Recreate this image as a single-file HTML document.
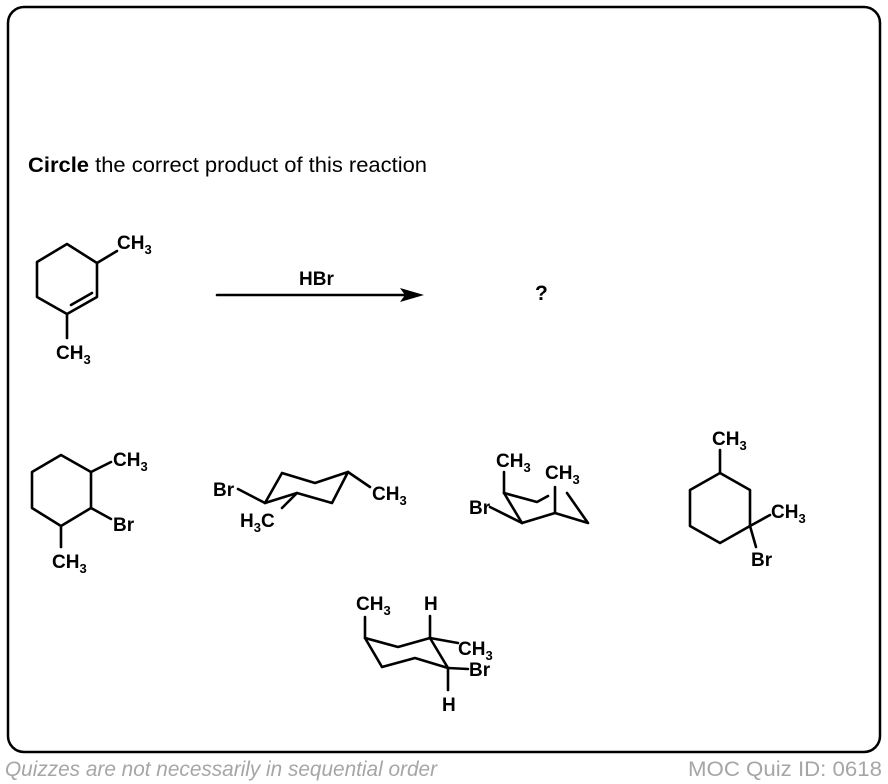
<!DOCTYPE html>
<html><head><meta charset="utf-8"><style>
html,body{margin:0;padding:0;background:#fff;}
svg{display:block;}
text{font-family:"Liberation Sans",Arial,sans-serif;fill:#000;}
.b{font-weight:bold;font-size:19px;}
.s{font-size:13px;font-weight:bold;}
</style></head><body>
<svg width="888" height="784" viewBox="0 0 888 784" xmlns="http://www.w3.org/2000/svg">
<rect x="8" y="7" width="872" height="745" rx="16" ry="16" fill="none" stroke="#000" stroke-width="2.5"/>
<text x="28" y="172" style="font-size:21px" textLength="399" lengthAdjust="spacingAndGlyphs"><tspan font-weight="bold">Circle</tspan> the correct product of this reaction</text>
<g stroke="#000" stroke-width="2.6" fill="none" stroke-linejoin="round" stroke-linecap="round">
<!-- mol 1 -->
<polygon points="67,244 97,263 97,297 67,314 37,297 37,262"/>
<line x1="71" y1="305" x2="92" y2="293"/>
<line x1="97" y1="263" x2="117" y2="251"/>
<line x1="67" y1="314" x2="67" y2="338"/>
<!-- arrow -->
<line x1="217" y1="295" x2="405" y2="295"/>
<!-- mol 2 -->
<polygon points="61,455 91,472 91,508 61,526 32,508 32,472"/>
<line x1="91" y1="472" x2="111" y2="462"/>
<line x1="91" y1="508" x2="111" y2="519"/>
<line x1="61" y1="526" x2="61" y2="547"/>
<!-- chair 1 -->
<polyline points="265,503 282,473 315,483 348,472 332,503 297,493 265,503"/>
<line x1="238" y1="489" x2="265" y2="503"/>
<line x1="348" y1="472" x2="370" y2="487"/>
<line x1="297" y1="493" x2="282" y2="508"/>
<!-- chair 2 -->
<line x1="504" y1="472" x2="504" y2="493"/>
<polyline points="504,493 537,502 548,496"/>
<polyline points="567,493 588,523 555,513 522,523 504,493"/>
<line x1="555" y1="513" x2="555" y2="487"/>
<line x1="490" y1="507" x2="522" y2="523"/>
<!-- chair 3 -->
<line x1="365" y1="638" x2="365" y2="617"/>
<polyline points="365,638 398,647 430,638 448,668 415,658 382,667 365,638"/>
<line x1="430" y1="638" x2="430" y2="616"/>
<line x1="430" y1="638" x2="458" y2="643"/>
<line x1="448" y1="668" x2="468" y2="669"/>
<line x1="448" y1="668" x2="448" y2="690"/>
<!-- mol 5 -->
<line x1="720" y1="450" x2="720" y2="473"/>
<polygon points="720,473 750,490 750,526 720,543 690,526 690,490"/>
<line x1="750" y1="526" x2="770" y2="515"/>
<line x1="750" y1="526" x2="756" y2="547"/>
</g>
<polygon points="424,295 400,288 405,295 400,302" fill="#000"/>
<text x="299" y="285" class="b">HBr</text>
<text x="535" y="300" class="b" style="font-size:21px">?</text>
<!-- labels -->
<text x="117" y="249" class="b">CH<tspan class="s" dy="5">3</tspan></text>
<text x="56" y="359" class="b">CH<tspan class="s" dy="5">3</tspan></text>
<text x="113" y="466" class="b">CH<tspan class="s" dy="5">3</tspan></text>
<text x="113" y="531" class="b">Br</text>
<text x="52" y="568" class="b">CH<tspan class="s" dy="5">3</tspan></text>
<text x="213" y="496" class="b">Br</text>
<text x="372" y="500" class="b">CH<tspan class="s" dy="5">3</tspan></text>
<text x="240" y="527" class="b">H<tspan class="s" dy="5">3</tspan><tspan dy="-5">C</tspan></text>
<text x="496" y="467" class="b">CH<tspan class="s" dy="5">3</tspan></text>
<text x="545" y="479" class="b">CH<tspan class="s" dy="5">3</tspan></text>
<text x="469" y="514" class="b">Br</text>
<text x="356" y="610" class="b">CH<tspan class="s" dy="5">3</tspan></text>
<text x="424" y="610" class="b">H</text>
<text x="458" y="655" class="b">CH<tspan class="s" dy="5">3</tspan></text>
<text x="469" y="676" class="b">Br</text>
<text x="442" y="711" class="b">H</text>
<text x="712" y="445" class="b">CH<tspan class="s" dy="5">3</tspan></text>
<text x="771" y="518" class="b">CH<tspan class="s" dy="5">3</tspan></text>
<text x="751" y="566" class="b">Br</text>
<text x="5" y="776" style="font-size:21px;font-style:italic;fill:#a6a6a6" textLength="432" lengthAdjust="spacingAndGlyphs">Quizzes are not necessarily in sequential order</text>
<text x="688" y="776" style="font-size:21px;fill:#a6a6a6" textLength="194" lengthAdjust="spacingAndGlyphs">MOC Quiz ID: 0618</text>
</svg>
</body></html>
